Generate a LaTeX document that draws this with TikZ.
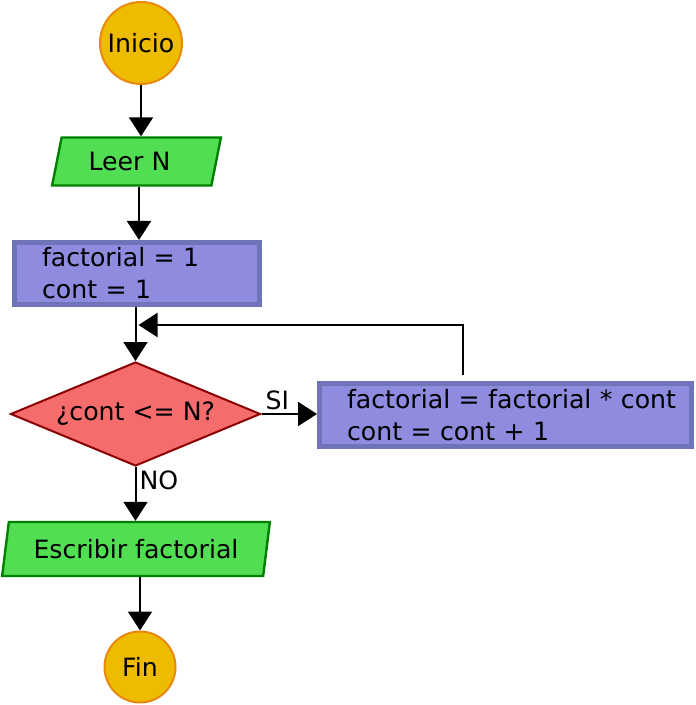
\documentclass[tikz,border=0pt]{standalone}
\usepackage{fontspec}
\setmainfont{DejaVu Sans}
\usetikzlibrary{shapes.geometric,arrows.meta}

\definecolor{oro}{RGB}{237,187,0}
\definecolor{naranja}{RGB}{232,137,14}
\definecolor{verde}{RGB}{82,222,82}
\definecolor{verdeosc}{RGB}{0,128,0}
\definecolor{lila}{RGB}{143,139,223}
\definecolor{lilaosc}{RGB}{111,116,184}
\definecolor{rojo}{RGB}{244,108,108}
\definecolor{rojoosc}{RGB}{139,0,0}

\begin{document}
\begin{tikzpicture}[x=0.5pt, y=-0.5pt,
    font=\fontsize{12.6pt}{16pt}\selectfont,
    terminal/.style = {circle, draw=naranja, fill=oro, line width=1pt, inner sep=0pt},
    entrada/.style = {trapezium, trapezium stretches=true, draw=verdeosc, fill=verde,
        line width=1.2pt, inner sep=0pt},
    proceso/.style = {rectangle, draw=lilaosc, fill=lila, line width=2.5pt,
        align=left, inner ysep=0pt},
    decision/.style = {diamond, aspect=2.4, draw=rojoosc, fill=rojo, line width=1pt,
        inner sep=0pt},
    flecha/.style = {-{Triangle[length=9.5pt, width=12pt]}, line width=1pt},
    etiqueta/.style = {inner sep=1.5pt}]
      \useasboundingbox (0,0) rectangle (695,705);
      \node (inicio) [terminal, minimum size=41pt] at (141,43) {Inicio};
      \node (leer) [entrada, trapezium left angle=72, trapezium right angle=108,
        minimum width=84.5pt, minimum height=24pt] at (136.5,161.5) {Leer N\hspace*{7pt}};
      \node (init) [proceso, text width=95pt, inner xsep=13.75pt,
        minimum height=31pt] at (137,273.5) {factorial = 1\\ cont = 1};
      \node (cond) [decision, minimum width=125pt, minimum height=52pt] at (135.5,414)
        {¿cont <= N?};
      \node (loop) [proceso, text width=158.5pt, inner xsep=13.75pt,
        minimum height=31.5pt] at (505.5,415)
        {\mbox{factorial = factorial * cont}\\ cont = cont + 1};
      \node (escribir) [entrada, trapezium left angle=74.5, trapezium right angle=105.5,
        minimum width=134pt, minimum height=27pt] at (136,549) {Escribir factorial};
      \node (fin) [terminal, minimum size=35.5pt] at (140,667) {Fin};
      \coordinate (subida) at (463,0);
      \coordinate (union) at (138.5,325);
      \draw[flecha] (inicio.south) -- (inicio.south |- leer.north);
      \draw[flecha] (leer.south -| 139,0) -- (init.north -| 139,0);
      \draw[flecha] (init.south -| cond.north) -- (cond.north);
      \draw[flecha] (cond.east) -- (cond.east -| loop.west)
        node[etiqueta, pos=0, anchor=south west] {SI};
      \draw[flecha] (cond.south) -- (escribir.north -| cond.south)
        node[etiqueta, pos=0, anchor=north west] {NO};
      \draw[flecha] (escribir.south -| fin.north) -- (fin.north);
      \draw[flecha] ([yshift=3pt]loop.north -| subida) |- (union);
    \end{tikzpicture}
\end{document}
